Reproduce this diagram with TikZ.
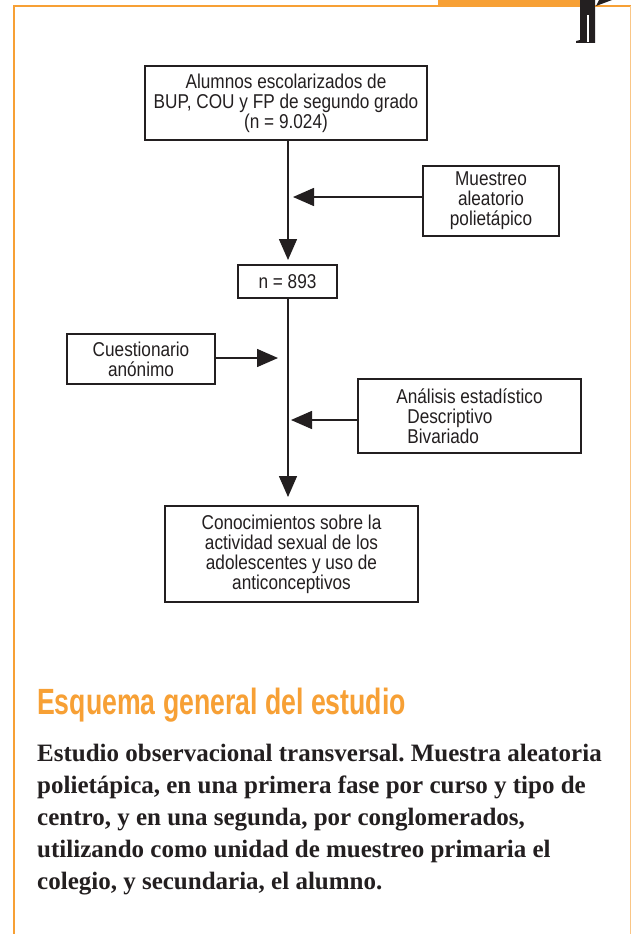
\documentclass[tikz,border=0pt]{standalone}
\usepackage{fontspec}
\setmainfont{Liberation Sans}
\newfontfamily\condfont[FakeStretch=0.86]{Liberation Sans}
\newfontfamily\headfont[FakeStretch=0.73]{Liberation Sans Bold}
\newfontfamily\bodyfont{Liberation Serif Bold}
\usetikzlibrary{arrows.meta}
\definecolor{frameorange}{RGB}{247,160,53}
\definecolor{ink}{RGB}{35,31,32}
\tikzset{
  box/.style={draw=ink, line width=1.5pt, inner sep=0pt, align=center,
    text=ink, font=\condfont\fontsize{20}{20}\selectfont},
  flow/.style={draw=ink, line width=1.5pt, -{Triangle[length=21pt,width=18pt]}},
}
\frenchspacing
\begin{document}
\begin{tikzpicture}[x=1pt,y=-1pt]
\useasboundingbox (0,0) rectangle (631,934);
\fill[white] (0,0) rectangle (631,934);
% frame
\fill[frameorange] (438,0) rectangle (580,6);
\draw[frameorange, line width=2pt] (14,934) -- (14,6) -- (631,6);
\draw[frameorange!60, line width=1pt] (630.5,6) -- (630.5,934);
% figure at the top right
\fill[ink] (580,0) -- (595,0) -- (595,43) -- (576,43) -- (576,41) -- (580,40) -- cycle;
\fill[white] (587,15) rectangle (589,42);
\fill[ink] (596,6) -- (599,0) -- (612,0) -- cycle;
% boxes
\node[box, minimum width=282pt, minimum height=74pt] (b1) at (286,103)
  {Alumnos escolarizados de\\BUP, COU y FP de segundo grado\\(n = 9.024)};
\node[box, minimum width=136pt, minimum height=70pt] (b2) at (491,201)
  {Muestreo\\aleatorio\\polietápico};
\node[box, minimum width=99pt, minimum height=33pt] (b3) at (287.5,281.5)
  {n = 893};
\node[box, minimum width=148pt, minimum height=50pt] (b4) at (141,359)
  {Cuestionario\\anónimo};
\node[box, align=left, minimum width=223pt, minimum height=74pt] (b5) at (469.5,416)
  {Análisis estadístico\\\hspace*{11pt}Descriptivo\\\hspace*{11pt}Bivariado};
\node[box, minimum width=253pt, minimum height=96pt] (b6) at (291.5,554)
  {Conocimientos sobre la\\actividad sexual de los\\adolescentes y uso de\\anticonceptivos};
% connectors
\coordinate (t1) at (288,260);
\coordinate (t2) at (293,197);
\coordinate (t4) at (278,358);
\coordinate (t5) at (291,420);
\coordinate (t6) at (288,497);
\draw[flow] (b1.south -| t1) -- (t1);
\draw[flow] (b2.west |- t2) -- (t2);
\draw[flow] (b4.east |- t4) -- (t4);
\draw[flow] (b5.west |- t5) -- (t5);
\draw[flow] (b3.south -| t6) -- (t6);
% heading and text
\node[anchor=base west, inner sep=0pt, text=frameorange,
  font=\headfont\fontsize{36.5}{40}\selectfont] (head) at (37,714)
  {Esquema general del estudio};
\node[anchor=base west, inner sep=0pt, align=left, text=ink,
  font=\bodyfont\fontsize{25}{32}\selectfont] (body) at (37,889)
  {Estudio observacional transversal. Muestra aleatoria\\
   polietápica, en una primera fase por curso y tipo de\\
   centro, y en una segunda, por conglomerados,\\
   utilizando como unidad de muestreo primaria el\\
   colegio, y secundaria, el alumno.};
\end{tikzpicture}
\end{document}
